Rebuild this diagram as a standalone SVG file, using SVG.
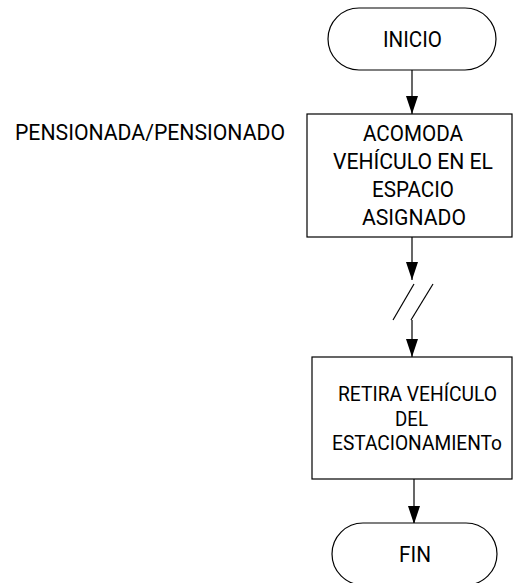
<svg xmlns="http://www.w3.org/2000/svg" width="513" height="583" viewBox="0 0 513 583">
  <style>
    .shape { fill: #ffffff; stroke: #000000; stroke-width: 1.2; }
    .txt { font-family: Roboto, "Liberation Sans", sans-serif; font-size: 22px; fill: #000000; text-anchor: middle; }
    .sm { font-size: 20.5px; }
    .lbl { font-family: Roboto, "Liberation Sans", sans-serif; font-size: 22px; fill: #000000; }
    .conn { fill: none; stroke: #000000; stroke-width: 1.2; }
  </style>
  <defs>
    <marker id="arrow" markerUnits="userSpaceOnUse" viewBox="0 0 18 12" refX="18" refY="6" markerWidth="18" markerHeight="12" orient="auto">
      <path d="M0,0 L18,6 L0,12 z" fill="#000000"/>
    </marker>
  </defs>
  <rect width="513" height="583" fill="#ffffff"/>

  <text class="lbl" x="15" y="140" textLength="270" lengthAdjust="spacingAndGlyphs">PENSIONADA/PENSIONADO</text>

  <g id="connectors">
    <line class="conn" x1="412" y1="70" x2="412" y2="114" marker-end="url(#arrow)"/>
    <line class="conn" x1="412" y1="237" x2="412" y2="280" marker-end="url(#arrow)"/>
    <line class="conn" x1="414" y1="284" x2="393" y2="320"/>
    <line class="conn" x1="433" y1="284" x2="411" y2="320"/>
    <line class="conn" x1="412" y1="320" x2="412" y2="357" marker-end="url(#arrow)"/>
    <line class="conn" x1="414" y1="479" x2="414" y2="524" marker-end="url(#arrow)"/>
  </g>

  <g id="inicio">
    <rect class="shape" x="328" y="8" width="168" height="62" rx="31" ry="31"/>
    <text class="txt" x="412.5" y="47" textLength="59" lengthAdjust="spacingAndGlyphs">INICIO</text>
  </g>

  <g id="acomoda">
    <rect class="shape" x="307" y="114" width="205" height="123"/>
    <text class="txt" x="413" y="141" textLength="100" lengthAdjust="spacingAndGlyphs">ACOMODA</text>
    <text class="txt" x="413" y="169" textLength="160" lengthAdjust="spacingAndGlyphs">VEHÍCULO EN EL</text>
    <text class="txt" x="413" y="197" textLength="82" lengthAdjust="spacingAndGlyphs">ESPACIO</text>
    <text class="txt" x="414" y="225" textLength="104" lengthAdjust="spacingAndGlyphs">ASIGNADO</text>
  </g>

  <g id="retira">
    <rect class="shape" x="312" y="357" width="200" height="122"/>
    <text class="txt sm" x="417.5" y="401" textLength="159" lengthAdjust="spacingAndGlyphs">RETIRA VEHÍCULO</text>
    <text class="txt sm" x="411.5" y="426" textLength="33" lengthAdjust="spacingAndGlyphs">DEL</text>
    <text class="txt sm" x="417" y="450" textLength="170" lengthAdjust="spacingAndGlyphs">ESTACIONAMIENTo</text>
  </g>

  <g id="fin">
    <rect class="shape" x="332" y="523" width="165" height="62" rx="31" ry="31"/>
    <text class="txt" x="415" y="562" textLength="32" lengthAdjust="spacingAndGlyphs">FIN</text>
  </g>
</svg>
